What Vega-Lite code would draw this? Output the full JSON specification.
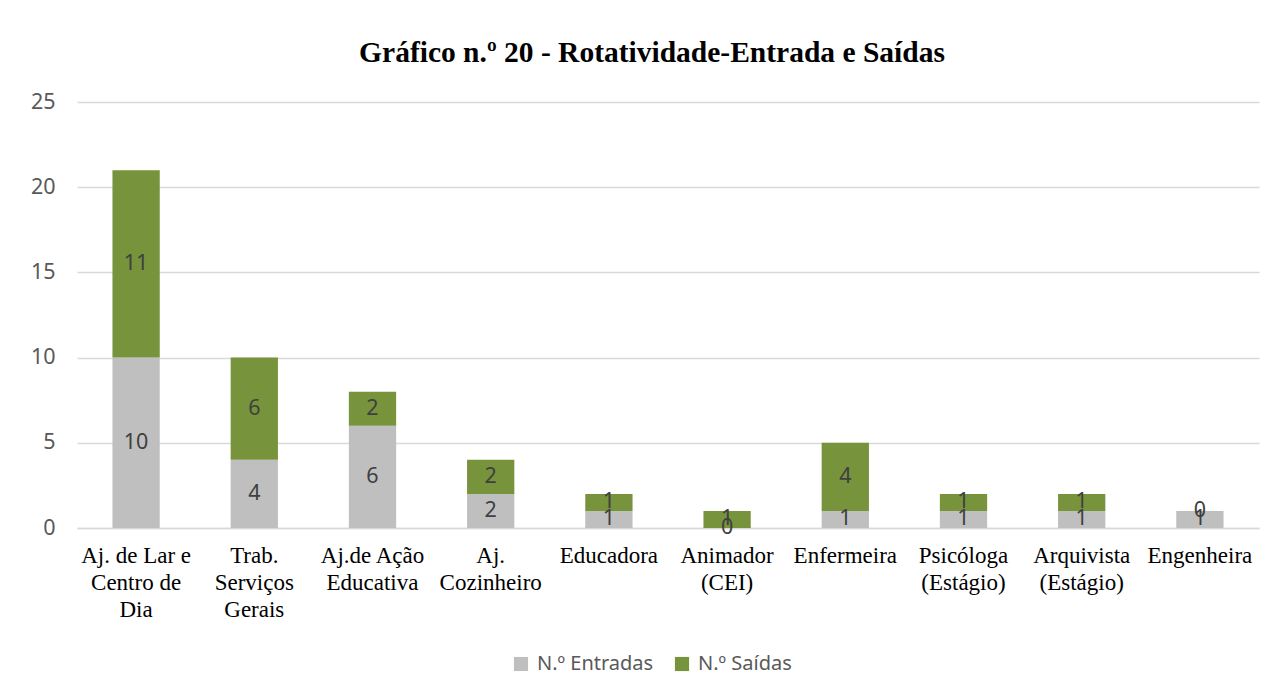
{
  "$schema": "https://vega.github.io/schema/vega-lite/v6.json",
  "width": 1182,
  "height": 426,
  "autosize": {"type": "none"},
  "padding": {"left": 77, "top": 102, "right": 17, "bottom": 167},
  "background": "#ffffff",
  "title": {
    "text": "Gráfico n.º 20 - Rotatividade-Entrada e Saídas",
    "font": "Liberation Serif",
    "fontSize": 29.5,
    "fontWeight": "bold",
    "color": "#000000",
    "anchor": "middle",
    "frame": "group",
    "offset": 23,
    "dx": -16
  },
  "data": {
    "values": [
      {"cat": "Aj. de Lar e|Centro de|Dia", "serie": "N.º Entradas", "ord": 1, "value": 10},
      {"cat": "Aj. de Lar e|Centro de|Dia", "serie": "N.º Saídas", "ord": 2, "value": 11},
      {"cat": "Trab.|Serviços|Gerais", "serie": "N.º Entradas", "ord": 1, "value": 4},
      {"cat": "Trab.|Serviços|Gerais", "serie": "N.º Saídas", "ord": 2, "value": 6},
      {"cat": "Aj.de Ação|Educativa", "serie": "N.º Entradas", "ord": 1, "value": 6},
      {"cat": "Aj.de Ação|Educativa", "serie": "N.º Saídas", "ord": 2, "value": 2},
      {"cat": "Aj.|Cozinheiro", "serie": "N.º Entradas", "ord": 1, "value": 2},
      {"cat": "Aj.|Cozinheiro", "serie": "N.º Saídas", "ord": 2, "value": 2},
      {"cat": "Educadora", "serie": "N.º Entradas", "ord": 1, "value": 1},
      {"cat": "Educadora", "serie": "N.º Saídas", "ord": 2, "value": 1},
      {"cat": "Animador|(CEI)", "serie": "N.º Entradas", "ord": 1, "value": 0},
      {"cat": "Animador|(CEI)", "serie": "N.º Saídas", "ord": 2, "value": 1},
      {"cat": "Enfermeira", "serie": "N.º Entradas", "ord": 1, "value": 1},
      {"cat": "Enfermeira", "serie": "N.º Saídas", "ord": 2, "value": 4},
      {"cat": "Psicóloga|(Estágio)", "serie": "N.º Entradas", "ord": 1, "value": 1},
      {"cat": "Psicóloga|(Estágio)", "serie": "N.º Saídas", "ord": 2, "value": 1},
      {"cat": "Arquivista|(Estágio)", "serie": "N.º Entradas", "ord": 1, "value": 1},
      {"cat": "Arquivista|(Estágio)", "serie": "N.º Saídas", "ord": 2, "value": 1},
      {"cat": "Engenheira", "serie": "N.º Entradas", "ord": 1, "value": 1},
      {"cat": "Engenheira", "serie": "N.º Saídas", "ord": 2, "value": 0}
    ]
  },
  "transform": [
    {"stack": "value", "groupby": ["cat"], "sort": [{"field": "ord", "order": "ascending"}], "as": ["v0", "v1"]},
    {"calculate": "(datum.v0 + datum.v1) / 2", "as": "vmid"}
  ],
  "encoding": {
    "x": {
      "field": "cat",
      "type": "nominal",
      "sort": null,
      "scale": {"paddingInner": 0.6, "paddingOuter": 0.3},
      "axis": {
        "title": null,
        "labelExpr": "split(datum.label, '|')",
        "labelAngle": 0,
        "labelFont": "Liberation Serif",
        "labelFontSize": 23,
        "labelColor": "#000000",
        "labelBaseline": "top",
        "labelLineHeight": 27,
        "labelPadding": 16,
        "ticks": false,
        "domain": true,
        "domainColor": "#d9d9d9",
        "domainWidth": 1.5,
        "labelLimit": 0
      }
    }
  },
  "layer": [
    {
      "mark": {"type": "bar"},
      "encoding": {
        "y": {
          "field": "v1",
          "type": "quantitative",
          "scale": {"domain": [0, 25], "nice": false},
          "axis": {
            "title": null,
            "values": [0, 5, 10, 15, 20, 25],
            "labelFont": "Noto Sans",
            "labelFontSize": 21.5,
            "labelColor": "#595959",
            "labelPadding": 22,
            "ticks": false,
            "domain": false,
            "grid": true,
            "gridColor": "#d9d9d9",
            "gridWidth": 1.5
          }
        },
        "y2": {"field": "v0"},
        "color": {
          "field": "serie",
          "type": "nominal",
          "scale": {"domain": ["N.º Entradas", "N.º Saídas"], "range": ["#bfbfbf", "#77933c"]},
          "legend": {
            "title": null,
            "orient": "none",
            "direction": "horizontal",
            "legendX": 434,
            "legendY": 552,
            "symbolType": "square",
            "symbolSize": 200,
            "symbolStrokeWidth": 0,
            "labelFont": "Noto Sans",
            "labelFontSize": 20,
            "labelColor": "#595959",
            "labelOffset": 6,
            "columnPadding": 18
          }
        }
      }
    },
    {
      "mark": {"type": "text", "font": "Noto Sans", "fontSize": 21.5, "color": "#404040", "baseline": "middle"},
      "encoding": {
        "y": {"field": "vmid", "type": "quantitative"},
        "text": {"field": "value", "type": "quantitative"}
      }
    }
  ],
  "config": {
    "view": {"stroke": null}
  }
}
